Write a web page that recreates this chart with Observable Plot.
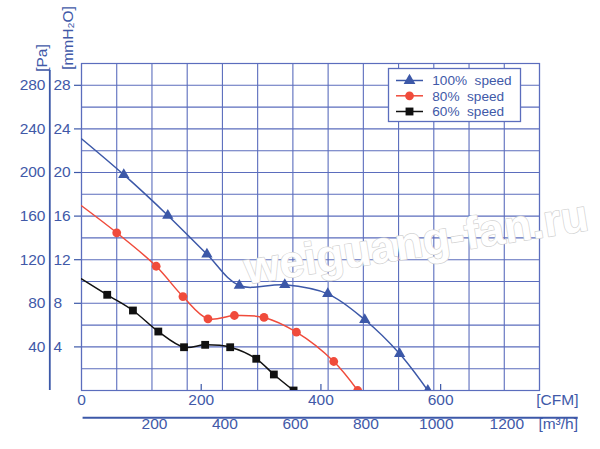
<!DOCTYPE html>
<html>
<head>
<meta charset="utf-8">
<script src="https://cdn.jsdelivr.net/npm/d3@7"></script>
<script src="https://cdn.jsdelivr.net/npm/@observablehq/plot@0.6"></script>
<style>
  html, body { margin: 0; padding: 0; background: #fff; }
  svg { display: block; }
</style>
</head>
<body>
<div id="chart"></div>
<script>
// ---- data (flow in m³/h, pressure in mmH2O) ----
const q100 = [0, 120, 245, 356, 448, 577, 699, 804, 903, 983];
const p100 = [23.1, 19.8, 16.06, 12.5, 9.63, 9.7, 8.87, 6.49, 3.37, 0];
const q80 = [0, 100, 212, 288, 359, 434, 518, 610, 716, 784];
const p80 = [16.95, 14.47, 11.4, 8.62, 6.58, 6.88, 6.7, 5.35, 2.66, 0];
const q60 = [0, 73, 146, 218, 291, 351, 422, 496, 546, 602];
const p60 = [10.25, 8.78, 7.34, 5.41, 3.97, 4.19, 3.97, 2.91, 1.47, 0];

const seriesNames = ["100%  speed", "80%  speed", "60%  speed"];
const mmTicks = [4, 8, 12, 16, 20, 24, 28];       // mmH2O labels
const paTicks = [40, 80, 120, 160, 200, 240, 280]; // Pa labels
const cfmTicks = [0, 200, 400, 600];
const m3hTicks = [200, 400, 600, 800, 1000, 1200];
const CFM_TO_M3H = 1.699;

const blue = "#3c58a8";
const gridC = "#5b6dbd";
const labelC = "#4159a8";
const red = "#f04b3b";
const black = "#111111";
const font = "'Liberation Sans', Arial, Helvetica, sans-serif";

const mk = (q, p) => q.map((x, i) => ({q: x, p: p[i], i}));
const d100 = mk(q100, p100), d80 = mk(q80, p80), d60 = mk(q60, p60);
const withMarker = d => d.filter(e => e.i > 0);

const chart = Plot.plot({
  width: 600,
  height: 449,
  marginLeft: 81,
  marginRight: 61,
  marginTop: 63,
  marginBottom: 59,
  style: {fontFamily: font, background: "#fff", overflow: "visible"},
  x: {domain: [0, 1300], axis: null},
  y: {domain: [0, 30], axis: null},
  marks: [
    Plot.gridX(d3.range(0, 1301, 100), {stroke: gridC, strokeOpacity: 1, strokeWidth: 1.1}),
    Plot.gridY(d3.range(0, 31, 2), {stroke: gridC, strokeOpacity: 1, strokeWidth: 1.1}),
    Plot.frame({stroke: gridC, strokeWidth: 1.2}),
    // watermark
    Plot.text(["weiguang-fan.ru"], {frameAnchor: "top-left", dx: 332, dy: 162, rotate: -9,
      fontSize: 45, fontWeight: "bold", fill: "white", stroke: "#d2d2d2", strokeWidth: 1.4, textAnchor: "middle"}),
    // curves
    Plot.line(d100, {x: "q", y: "p", curve: "catmull-rom", stroke: blue, strokeWidth: 1.5, clip: true}),
    Plot.line(d80, {x: "q", y: "p", curve: "catmull-rom", stroke: red, strokeWidth: 1.5, clip: true}),
    Plot.line(d60, {x: "q", y: "p", curve: "catmull-rom", stroke: black, strokeWidth: 1.5, clip: true}),
    Plot.dot(withMarker(d100), {x: "q", y: "p", symbol: "triangle", r: 4.2, fill: blue, stroke: "none", clip: true}),
    Plot.dot(withMarker(d80), {x: "q", y: "p", symbol: "circle", r: 4.4, fill: red, stroke: "none", clip: true}),
    Plot.dot(withMarker(d60), {x: "q", y: "p", symbol: "square", r: 4.4, fill: black, stroke: "none", clip: true}),
    // left axis ticks
    Plot.axisY(mmTicks, {anchor: "left", label: null, tickSize: 7, tickFormat: () => "", stroke: blue, strokeWidth: 1.2}),
    Plot.text(mmTicks, {y: d => d, text: d => String(d), frameAnchor: "left", dx: -28, textAnchor: "start",
      fill: labelC, fontSize: 15.5}),
    Plot.text(paTicks, {y: d => d / 10, text: d => String(d), frameAnchor: "left", dx: -36, textAnchor: "end",
      fill: labelC, fontSize: 15.5}),
    Plot.ruleX([0], {y1: 0, y2: 29.36, dx: -31.7, stroke: blue, strokeWidth: 1.8}),
    Plot.text(["[Pa]"], {frameAnchor: "top-left", dx: -46, dy: -5.5, rotate: -90, textAnchor: "middle",
      fill: labelC, fontSize: 15.5}),
    Plot.text(["[mmH\u2082O]"], {frameAnchor: "top-left", dx: -19.5, dy: -25.5, rotate: -90, textAnchor: "middle",
      fill: labelC, fontSize: 15.5}),
    // bottom CFM axis
    Plot.ruleX(cfmTicks.slice(1), {x: d => d * CFM_TO_M3H, y1: 0, y2: 0.55, stroke: blue, strokeWidth: 1.2}),
    Plot.text(cfmTicks, {x: d => d * CFM_TO_M3H, text: d => String(d), frameAnchor: "bottom", dy: 14.5,
      fill: labelC, fontSize: 15.5}),
    Plot.text(["[CFM]"], {frameAnchor: "bottom-right", dx: 39, dy: 14.5, textAnchor: "end", fill: labelC, fontSize: 15.5}),
    // bottom m3/h axis
    Plot.ruleY([0], {x1: 4.5, x2: 1410, dy: 27.3, stroke: blue, strokeWidth: 2}),
    Plot.text(m3hTicks, {x: d => d, text: d => String(d), frameAnchor: "bottom", dy: 38.5, dx: 2.5,
      fill: labelC, fontSize: 15.5}),
    Plot.text(["[m\u00b3/h]"], {frameAnchor: "bottom-right", dx: 38.5, dy: 38.5, textAnchor: "end", fill: labelC, fontSize: 15.5})
  ]
});

document.getElementById("chart").appendChild(chart);

// ---- legend ----
const svg = d3.select(chart);
const lg = svg.append("g").attr("font-family", font).attr("text-anchor", "start");
lg.append("rect").attr("x", 388.5).attr("y", 68.5).attr("width", 132).attr("height", 53)
  .attr("fill", "#fff").attr("stroke", gridC).attr("stroke-width", 1.3);
const legColors = [blue, red, black];
const legSym = [d3.symbolTriangle, d3.symbolCircle, d3.symbolSquare];
const legY = [80.5, 95.8, 111.5];
seriesNames.forEach((name, i) => {
  const y = legY[i];
  lg.append("line").attr("x1", 396).attr("x2", 423).attr("y1", y).attr("y2", y)
    .attr("stroke", legColors[i]).attr("stroke-width", 1.5);
  lg.append("path").attr("d", d3.symbol(legSym[i], i === 2 ? 62 : 60)())
    .attr("transform", `translate(409.5,${y})`).attr("fill", legColors[i]);
  lg.append("text").attr("x", 432.3).attr("y", y).attr("dy", "0.36em")
    .attr("font-size", 13.6).attr("fill", labelC).attr("text-anchor", "start")
    .style("white-space", "pre").text(name);
});
</script>
</body>
</html>
